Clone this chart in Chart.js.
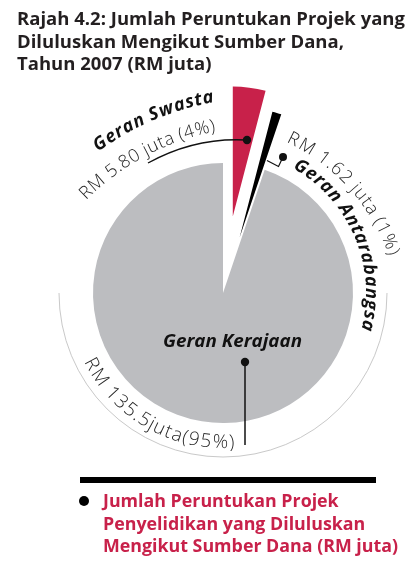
<!DOCTYPE html>
<html>
<head>
<meta charset="utf-8">
<script src="https://cdn.jsdelivr.net/npm/chart.js@4.4.1/dist/chart.umd.min.js"></script>
<style>
  html, body { margin: 0; padding: 0; background: #fff; }
  #wrap { width: 417px; height: 561px; position: relative; }
</style>
</head>
<body>
<div id="wrap"><canvas id="pie"></canvas></div>
<script>
// data
const sources = ["Geran Swasta", "Geran Antarabangsa", "Geran Kerajaan"];
const amounts = [5.80, 1.62, 135.5];
const valueLabels = ["RM 5.80 juta (4%)", "RM 1.62 juta (1%)", "RM 135.5juta(95%)"];
const titleLines = [
    "Rajah 4.2: Jumlah Peruntukan Projek yang",
    "Diluluskan Mengikut Sumber Dana,",
    "Tahun 2007 (RM juta)",
];
const legendLines = [
    "Jumlah Peruntukan Projek",
    "Penyelidikan yang Diluluskan",
    "Mengikut Sumber Dana (RM juta)",
];

const colors = ["#c8214a", "#000000", "#bcbdc0"];
const explode = [77, 58, 0];
const RED_TEXT = "#c8214a";
const DARK = "#231f20";
const LIGHT_TXT = "#262626";

const FAM = '"Open Sans", "Noto Sans", sans-serif';

// text squeezed/stretched to a given width (the original face is narrow)
function fitText(ctx, text, x, y, sx) {
    ctx.save();
    ctx.translate(x, y);
    ctx.scale(sx, 1);
    ctx.fillText(text, 0, 0);
    ctx.restore();
}

// text along a circle; a0 -> a1 in degrees (canvas angles)
// a1 > a0 : clockwise, letters' tops outward
// a1 < a0 : counter-clockwise, letters' tops toward the centre
function arcText(ctx, text, cx, cy, r, a0, a1, font, color) {
    ctx.save();
    ctx.font = font;
    ctx.fillStyle = color;
    ctx.textAlign = "center";
    ctx.textBaseline = "alphabetic";
    const chars = [...text];
    const widths = chars.map(c => ctx.measureText(c).width);
    const total = widths.reduce((a, b) => a + b, 0);
    const span = Math.abs(a1 - a0) * Math.PI / 180 * r;
    const k = span / total;
    const dir = a1 > a0 ? 1 : -1;
    let s = 0;
    chars.forEach((c, i) => {
        const w = widths[i] * k;
        const ang = a0 * Math.PI / 180 + dir * (s + w / 2) / r;
        ctx.save();
        ctx.translate(cx + r * Math.cos(ang), cy + r * Math.sin(ang));
        ctx.rotate(ang + dir * Math.PI / 2);
        ctx.fillText(c, 0, 0);
        ctx.restore();
        s += w;
    });
    ctx.restore();
}

function dot(ctx, x, y, r) {
    ctx.beginPath();
    ctx.arc(x, y, r, 0, Math.PI * 2);
    ctx.fill();
}

// pulls the small slices out of the pie
const explodePlugin = {
    id: "explode",
    beforeDatasetDraw(chart, args) {
        const ctx = chart.ctx;
        args.meta.data.forEach((arc, i) => {
            const mid = (arc.startAngle + arc.endAngle) / 2;
            ctx.save();
            ctx.translate(Math.cos(mid) * explode[i], Math.sin(mid) * explode[i]);
            arc.draw(ctx);
            ctx.restore();
        });
        return false;
    },
};

const annotations = {
    id: "annotations",
    beforeDraw(chart) {
        const ctx = chart.ctx;
        ctx.save();
        ctx.fillStyle = "#fff";
        ctx.fillRect(0, 0, chart.width, chart.height);
        ctx.restore();
    },
    afterDraw(chart) {
        const ctx = chart.ctx;
        const arc = chart.getDatasetMeta(0).data[2];
        const cx = arc.x, cy = arc.y;

        ctx.save();

        // title
        ctx.font = "700 17px " + FAM;
        ctx.fillStyle = DARK;
        ctx.textBaseline = "alphabetic";
        const tsx = 388 / ctx.measureText(titleLines[0]).width;
        [25, 48, 70].forEach((y, i) => fitText(ctx, titleLines[i], 17, y, tsx));

        // thin outer ring
        ctx.strokeStyle = "#c9c9c9";
        ctx.lineWidth = 1;
        ctx.beginPath();
        ctx.arc(cx, cy, 164, 0, Math.PI);
        ctx.stroke();

        // curved labels
        arcText(ctx, sources[0], 262, 375, 277, -126.4, -99.8, "italic 700 18px " + FAM, "#111");
        arcText(ctx, valueLabels[0], 262, 375, 248, -135.3, -100.7, "300 18px " + FAM, LIGHT_TXT);
        arcText(ctx, valueLabels[1], 202, 321, 198, -65, -19, "300 18px " + FAM, LIGHT_TXT);
        arcText(ctx, sources[1], cx, cy, 143, -61, 15, "italic 700 18px " + FAM, "#111");
        arcText(ctx, valueLabels[2], cx, cy, 155, 154, 85.5, "300 19px " + FAM, LIGHT_TXT);

        // callouts
        ctx.strokeStyle = "#111";
        ctx.fillStyle = "#111";
        ctx.lineWidth = 1.4;
        ctx.beginPath();
        ctx.moveTo(148, 163);
        ctx.quadraticCurveTo(195, 137, 247, 140);
        ctx.stroke();
        dot(ctx, 247, 140, 4.2);

        ctx.lineWidth = 1.2;
        ctx.beginPath();
        ctx.moveTo(267, 160.5);
        ctx.lineTo(278.5, 166.5);
        ctx.lineTo(283, 157);
        ctx.stroke();
        dot(ctx, 283, 157, 4);

        ctx.lineWidth = 1.5;
        ctx.beginPath();
        ctx.moveTo(245, 362);
        ctx.lineTo(245, 445);
        ctx.stroke();
        dot(ctx, 245, 362, 4.2);

        ctx.font = "italic 700 17px " + FAM;
        const kw = ctx.measureText(sources[2]).width;
        fitText(ctx, sources[2], 163, 347, 139 / kw);

        // legend block
        ctx.fillStyle = "#000";
        ctx.fillRect(80, 477, 296, 6);
        dot(ctx, 84, 501, 5);
        ctx.font = "700 17px " + FAM;
        ctx.fillStyle = RED_TEXT;
        const lsx = 295 / ctx.measureText(legendLines[2]).width;
        [507, 530, 552].forEach((y, i) => fitText(ctx, legendLines[i], 103, y, lsx));

        ctx.restore();
    },
};

new Chart(document.getElementById("pie"), {
    type: "pie",
    data: {
        labels: sources,
        datasets: [
            {
                data: amounts,
                backgroundColor: colors,
                borderWidth: 0,
            },
        ],
    },
    options: {
        responsive: true,
        maintainAspectRatio: false,
        animation: false,
        events: [],
        radius: 130,
        rotation: 0,
        layout: {
            padding: { left: 40, right: 11, top: 100, bottom: 75 },
        },
        plugins: {
            legend: { display: false },
            tooltip: { enabled: false },
            title: { display: false },
        },
    },
    plugins: [explodePlugin, annotations],
});
</script>
</body>
</html>
